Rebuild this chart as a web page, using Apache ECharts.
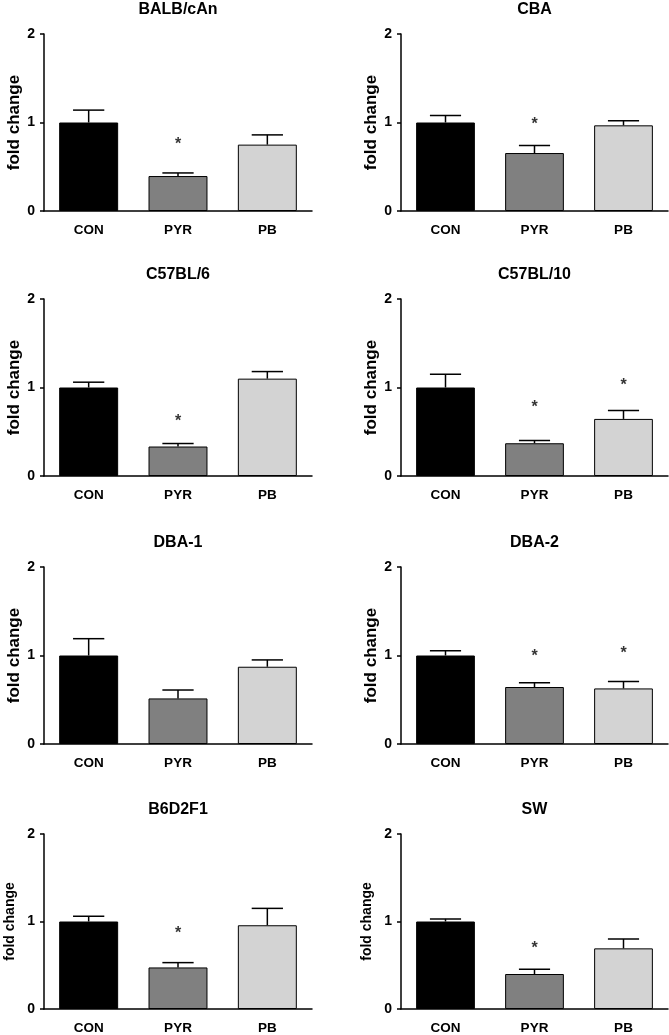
<!DOCTYPE html>
<html>
<head>
<meta charset="utf-8">
<script src="https://cdn.jsdelivr.net/npm/echarts@6/dist/echarts.min.js"></script>
<style>html,body{margin:0;padding:0;background:#fff;}#c{width:669px;height:1035px;}</style>
</head>
<body>
<div id="c"></div>
<script>
const strains = ['BALB/cAn','CBA','C57BL/6','C57BL/10','DBA-1','DBA-2','B6D2F1','SW'];
const groups = ['CON','PYR','PB'];
const yTicks = [0, 1, 2];
const barColors = ['#000000','#808080','#d3d3d3'];
const means = [
  [1.0, 0.395, 0.75],
  [1.0, 0.655, 0.968],
  [1.0, 0.333, 1.10],
  [1.0, 0.37, 0.645],
  [1.0, 0.515, 0.873],
  [1.0, 0.644, 0.628],
  [1.0, 0.475, 0.957],
  [1.0, 0.40, 0.693]
];
const errors = [
  [0.14, 0.035, 0.11],
  [0.078, 0.085, 0.052],
  [0.06, 0.034, 0.08],
  [0.15, 0.03, 0.095],
  [0.19, 0.095, 0.077],
  [0.054, 0.049, 0.079],
  [0.06, 0.055, 0.193],
  [0.03, 0.055, 0.107]
];
const stars = [
  [null, 0.80, null],
  [null, 1.02, null],
  [null, 0.66, null],
  [null, 0.82, 1.07],
  [null, null, null],
  [null, 1.03, 1.065],
  [null, 0.91, null],
  [null, 0.74, null]
];

const FONT = '"Liberation Sans", Arial, sans-serif';
const colLeft = [44, 401];
const colWidth = [268, 267];
const rowTop = [34, 299, 567, 834];
const gridH = 177;

const grid = [], xAxis = [], yAxis = [], title = [], series = [];
strains.forEach((name, i) => {
  const col = i % 2, row = Math.floor(i / 2);
  grid.push({left: colLeft[col], top: rowTop[row], width: colWidth[col], height: gridH, containLabel: false});
  title.push({
    text: name, left: colLeft[col] + colWidth[col] / 2, top: rowTop[row] - 32, padding: 0,
    textAlign: 'center',
    textStyle: {fontFamily: FONT, fontWeight: 'bold', fontSize: 16, color: '#000'}
  });
  xAxis.push({
    type: 'category', gridIndex: i, data: groups,
    axisLine: {lineStyle: {color: '#000', width: 1.5}},
    axisTick: {show: false},
    axisLabel: {fontFamily: FONT, fontWeight: 'bold', fontSize: 13.5, color: '#000', margin: 12}
  });
  yAxis.push({
    type: 'value', gridIndex: i, min: yTicks[0], max: yTicks[yTicks.length - 1], interval: 1,
    axisLine: {show: true, lineStyle: {color: '#000', width: 1.5}},
    axisTick: {show: true, length: 4, lineStyle: {color: '#000', width: 1.5}},
    splitLine: {show: false},
    axisLabel: {fontFamily: FONT, fontWeight: 'bold', fontSize: 14, color: '#000', margin: 9},
    name: 'fold change', nameLocation: 'middle', nameGap: row === 3 ? 27 : 21,
    nameTextStyle: {fontFamily: FONT, fontWeight: 'bold', fontSize: row === 3 ? 14 : 17, color: '#000'}
  });
  series.push({
    type: 'bar', xAxisIndex: i, yAxisIndex: i, barWidth: '66%',
    data: means[i].map((v, j) => ({value: v, itemStyle: {color: barColors[j], borderColor: '#000', borderWidth: 1}})),
    z: 2
  });
  series.push({
    type: 'custom', xAxisIndex: i, yAxisIndex: i, z: 3,
    data: means[i].map((v, j) => [j, v, v + errors[i][j]]),
    renderItem: function (params, api) {
      const base = api.coord([api.value(0), api.value(1)]);
      const top = api.coord([api.value(0), api.value(2)]);
      const half = api.size([1, 0])[0] * 0.175;
      const style = {stroke: '#000', lineWidth: 1.5};
      return {
        type: 'group',
        children: [
          {type: 'line', shape: {x1: top[0], y1: base[1], x2: top[0], y2: top[1]}, style: style},
          {type: 'line', shape: {x1: top[0] - half, y1: top[1], x2: top[0] + half, y2: top[1]}, style: style}
        ]
      };
    }
  });
  const sd = [];
  stars[i].forEach((s, j) => { if (s !== null) sd.push([j, s]); });
  series.push({
    type: 'scatter', xAxisIndex: i, yAxisIndex: i, z: 4,
    symbolSize: 1, itemStyle: {color: 'rgba(0,0,0,0)'},
    data: sd,
    label: {show: true, formatter: '*', position: 'inside', offset: [0, 4],
      fontFamily: FONT, fontWeight: 'bold', fontSize: 16, color: '#000'}
  });
});

const chart = echarts.init(document.getElementById('c'), null, {renderer: 'canvas'});
chart.setOption({animation: false, backgroundColor: '#fff', title, grid, xAxis, yAxis, series, tooltip: {show: false}});
</script>
</body>
</html>
